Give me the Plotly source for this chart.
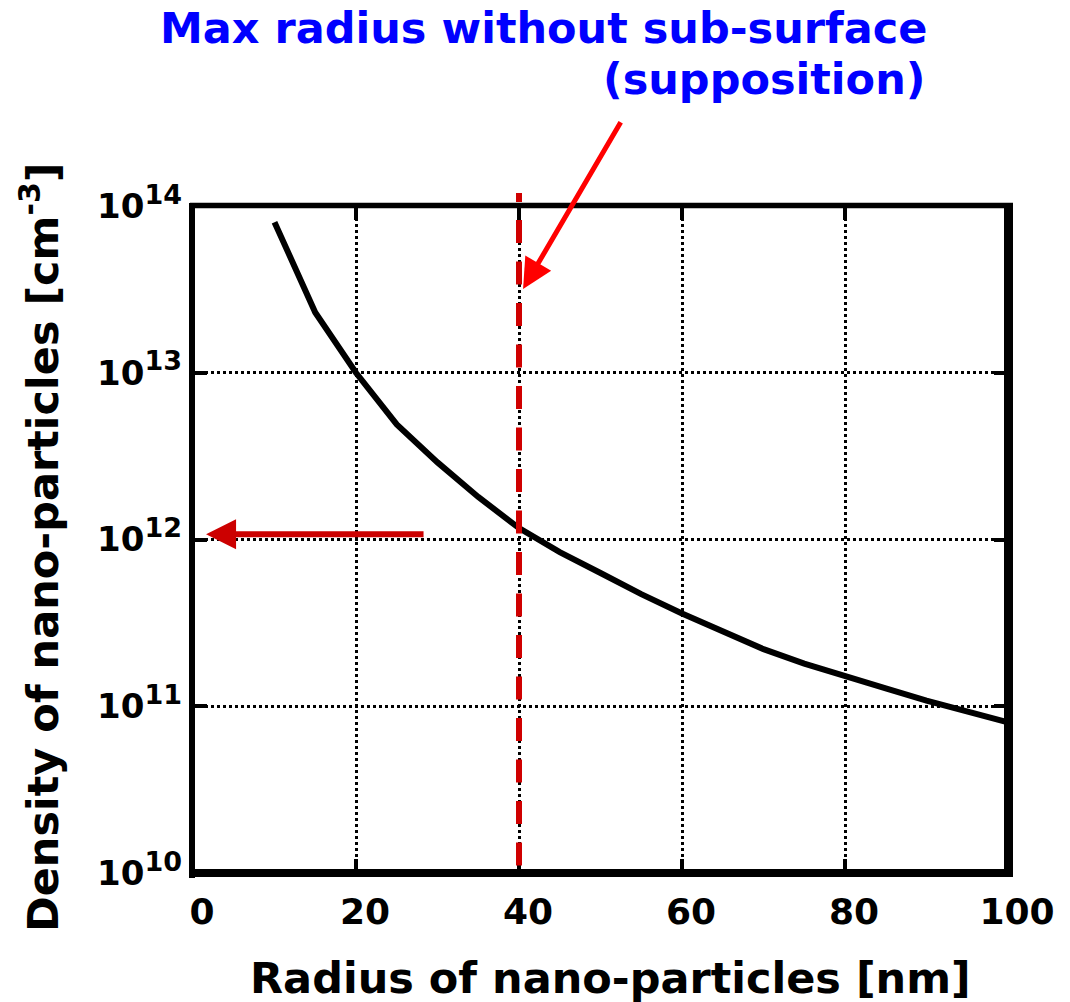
import plotly.graph_objects as go

# ---- data ----
radius_nm = [10, 15, 20, 25, 30, 35, 40, 45, 50, 55, 60, 65, 70, 75, 80, 85, 90, 95, 100]
density_cm3 = [8.0e13, 2.3e13, 1.0e13, 4.9e12, 2.9e12, 1.8e12, 1.17e12, 8.4e11, 6.3e11,
               4.7e11, 3.6e11, 2.8e11, 2.2e11, 1.8e11, 1.53e11, 1.28e11, 1.08e11, 9.3e10, 8.0e10]
x_ticks = [0, 20, 40, 60, 80, 100]
y_exponents = [10, 11, 12, 13, 14]
max_radius_nm = 40
title_lines = ["Max radius without sub-surface", "(supposition)"]
x_title = "Radius of nano-particles [nm]"
y_title = "Density of nano-particles [cm<sup>-3</sup>]"

FONT = "DejaVu Sans"
W, H = 1070, 1002
L, R, T, B = 193, 62, 206, 129
PW, PH = W - L - R, H - T - B

def px_x(p):  # figure pixel -> paper
    return (p - L) / PW

def px_y(p):
    return (H - B - p) / PH

fig = go.Figure()
fig.add_trace(go.Scatter(x=radius_nm, y=density_cm3, mode="lines",
                         line=dict(color="black", width=6), showlegend=False,
                         hoverinfo="skip"))

y_ticktext = ["10<sup><span style='font-size:27px'>%d</span></sup>" % e for e in y_exponents]

fig.update_layout(
    width=W, height=H,
    margin=dict(l=L, r=R, t=T, b=B),
    paper_bgcolor="white", plot_bgcolor="white",
    showlegend=False,
    font=dict(family=FONT, color="black", weight="bold"),
    xaxis=dict(range=[0, 100], tickvals=x_ticks, ticktext=[str(v) for v in x_ticks],
               showline=False, zeroline=False, showgrid=True,
               gridcolor="black", gridwidth=2.5, griddash="dot",
               ticks="inside", ticklen=14, tickwidth=4, tickcolor="black",
               mirror="ticks", ticklabelstandoff=14, ticklabelshift=9,
               tickfont=dict(family=FONT, size=36, color="black", weight="bold")),
    yaxis=dict(type="log", range=[10, 14], tickvals=[10.0 ** e for e in y_exponents],
               ticktext=y_ticktext,
               showline=False, zeroline=False, showgrid=True,
               gridcolor="black", gridwidth=3, griddash="dot",
               ticks="inside", ticklen=14, tickwidth=4, tickcolor="black",
               mirror="ticks", ticklabelstandoff=10,
               tickfont=dict(family=FONT, size=34, color="black", weight="bold")),
)

# frame
shapes = [
    dict(type="line", xref="paper", yref="paper", x0=px_x(192), x1=px_x(192), y0=px_y(878), y1=px_y(203),
         line=dict(color="black", width=6)),
    dict(type="line", xref="paper", yref="paper", x0=px_x(190), x1=px_x(1013), y0=px_y(205.5), y1=px_y(205.5),
         line=dict(color="black", width=5.5)),
    dict(type="line", xref="paper", yref="paper", x0=px_x(1008.5), x1=px_x(1008.5), y0=px_y(877), y1=px_y(203),
         line=dict(color="black", width=9)),
    dict(type="line", xref="paper", yref="paper", x0=px_x(190), x1=px_x(1013), y0=px_y(873), y1=px_y(873),
         line=dict(color="black", width=8)),
]

dash_pattern = "9px,18px" + ",23px,18.5px" * 20
shapes.append(dict(type="line", xref="x", yref="paper", x0=max_radius_nm, x1=max_radius_nm,
                   y0=px_y(193), y1=px_y(866), line=dict(color="#d00000", width=6, dash=dash_pattern),
                   layer="above"))
fig.update_layout(shapes=shapes)

annotations = [
    # left red arrow pointing at y axis (10^12 level)
    dict(x=1.6, y=12.031, xref="x", yref="y", text="", showarrow=True,
         ax=219, ay=0, axref="pixel", ayref="pixel",
         arrowcolor="#cc0000", arrowwidth=6, arrowhead=2, arrowsize=1.0, standoff=0),
    # diagonal red arrow pointing to dashed line
    dict(x=40.5, y=13.502, xref="x", yref="y", text="", showarrow=True,
         ax=98.5, ay=-168.3, axref="pixel", ayref="pixel",
         arrowcolor="#ff0000", arrowwidth=5, arrowhead=2, arrowsize=1.2, standoff=0),
    dict(x=px_x(929), y=px_y(28), xref="paper", yref="paper", text=title_lines[0],
         showarrow=False, xanchor="right", yanchor="middle",
         font=dict(family=FONT, size=43, color="#0000ff", weight="bold")),
    dict(x=px_x(927), y=px_y(79), xref="paper", yref="paper", text=title_lines[1],
         showarrow=False, xanchor="right", yanchor="middle",
         font=dict(family=FONT, size=43, color="#0000ff", weight="bold")),
    dict(x=px_x(610), y=px_y(978), xref="paper", yref="paper", text=x_title,
         showarrow=False, xanchor="center", yanchor="middle",
         font=dict(family=FONT, size=43, color="black", weight="bold")),
    dict(x=px_x(40), y=px_y(547), xref="paper", yref="paper", text=y_title,
         showarrow=False, xanchor="center", yanchor="middle", textangle=-90,
         font=dict(family=FONT, size=43, color="black", weight="bold")),
]
fig.update_layout(annotations=annotations)

fig.write_html("out.html")
